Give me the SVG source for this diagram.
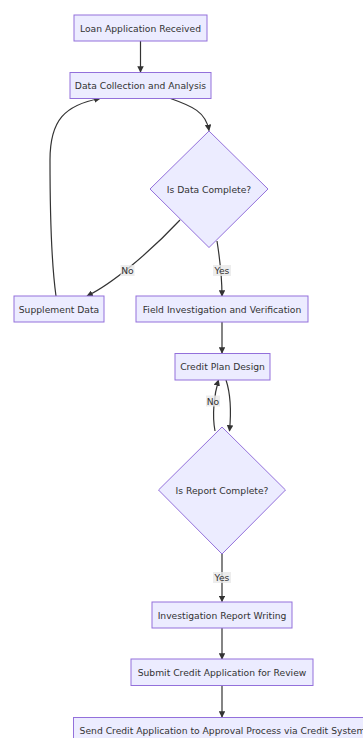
<svg xmlns="http://www.w3.org/2000/svg" width="363" height="738" viewBox="0 0 363 738">
<defs>
<marker id="ah" viewBox="0 0 10 10" refX="9" refY="5" markerUnits="userSpaceOnUse" markerWidth="6.5" markerHeight="6.5" orient="auto">
<path d="M0,0 L10,5 L0,10 z" fill="#333"/>
</marker>
<style>
.n{fill:#ECECFF;stroke:#9370DB;stroke-width:1}
.t{font-family:"DejaVu Sans",Verdana,sans-serif;font-size:9.2px;fill:#333;text-anchor:middle;dominant-baseline:central}
.e{fill:none;stroke:#333;stroke-width:1.2;marker-end:url(#ah)}
.lb{fill:#e8e8e8;opacity:0.8}
</style>
</defs>
<rect width="363" height="738" fill="#fff"/>
<g id="edges">
<path class="e" d="M140.5,41 L140.5,72"/>
<path class="e" d="M170.5,98.5 C192,106 206,112 209,130.5"/>
<path class="e" d="M180,220 C150,252 112,284 87,296"/>
<path class="e" d="M217,241 C220,260 222,280 222,296"/>
<path class="e" d="M56,296 C51,260 50,200 50,160 C50,120 65,105 100,98.5"/>
<path class="e" d="M222,322 L222,353"/>
<path class="e" d="M226,380 C231,395 231,415 229.5,431"/>
<path class="e" d="M215,431 C212,415 214,395 218.5,380"/>
<path class="e" d="M222,554 L222,601.5"/>
<path class="e" d="M222,628 L222,659"/>
<path class="e" d="M222,685.5 L222,717"/>
<g id="edge-labels">
<rect class="lb" x="120.5" y="265" width="14" height="11"/>
<text class="t" x="127.5" y="270.7">No</text>
<rect class="lb" x="213" y="265" width="18" height="11"/>
<text class="t" x="222" y="270.7">Yes</text>
<rect class="lb" x="206" y="395.5" width="14" height="11"/>
<text class="t" x="213" y="401">No</text>
<rect class="lb" x="213" y="572" width="18" height="11"/>
<text class="t" x="222" y="577.3">Yes</text>
</g>
</g>
<g id="n1"><rect class="n" x="74" y="15" width="133" height="26"/><text class="t" x="140.5" y="28">Loan Application Received</text></g>
<g id="n2"><rect class="n" x="70" y="72.5" width="141" height="26"/><text class="t" x="140.5" y="85.5">Data Collection and Analysis</text></g>
<g id="n3"><polygon class="n" points="209,131 268,189 209,247.5 150,189"/><text class="t" x="209" y="189">Is Data Complete?</text></g>
<g id="n4"><rect class="n" x="14" y="296" width="90" height="26"/><text class="t" x="59" y="309">Supplement Data</text></g>
<g id="n5"><rect class="n" x="136" y="296" width="172" height="26"/><text class="t" x="222" y="309">Field Investigation and Verification</text></g>
<g id="n6"><rect class="n" x="175" y="353.5" width="95" height="26.5"/><text class="t" x="222.5" y="366.5">Credit Plan Design</text></g>
<g id="n7"><polygon class="n" points="222,427 285.5,490 222,554 158.5,490"/><text class="t" x="222" y="490">Is Report Complete?</text></g>
<g id="n8"><rect class="n" x="152" y="602" width="140" height="26"/><text class="t" x="222" y="615">Investigation Report Writing</text></g>
<g id="n9"><rect class="n" x="131" y="659" width="182" height="26.5"/><text class="t" x="222" y="672">Submit Credit Application for Review</text></g>
<g id="n10"><rect class="n" x="73.5" y="717.5" width="298" height="26"/><text class="t" x="222.5" y="730.5">Send Credit Application to Approval Process via Credit System</text></g>
</svg>
